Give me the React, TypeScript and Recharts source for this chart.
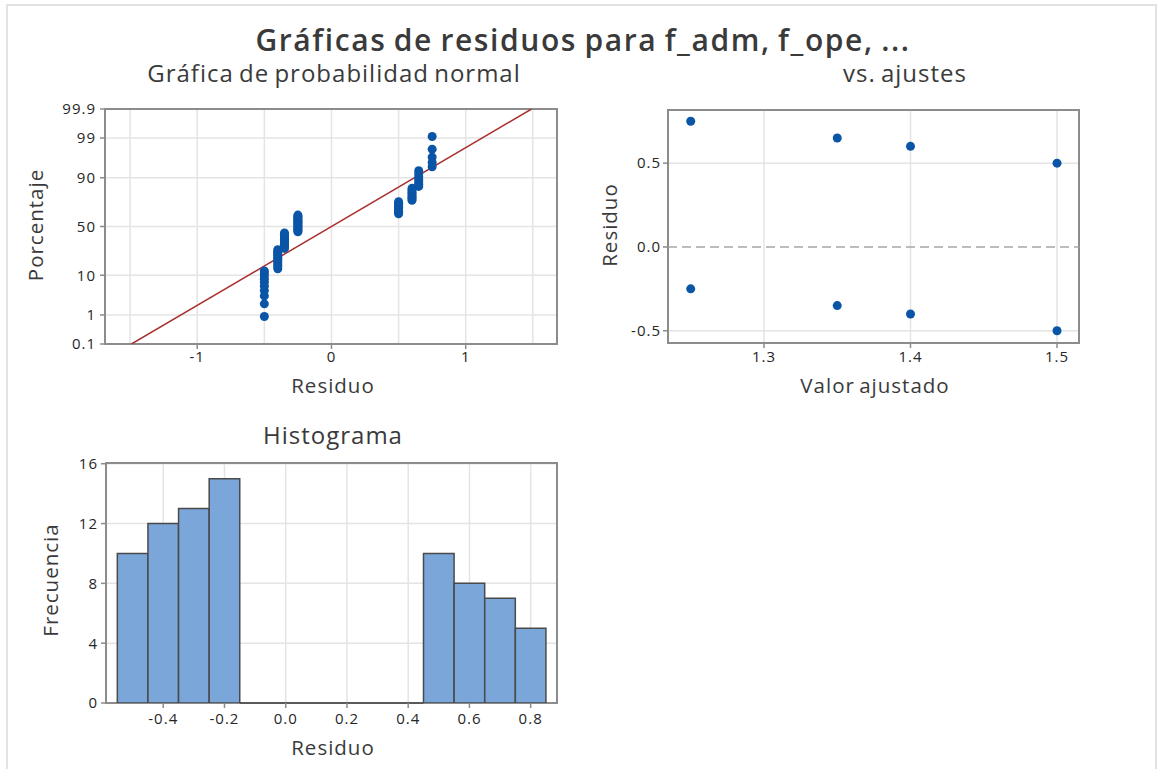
import React from "react";
import {
  ScatterChart,
  Scatter,
  BarChart,
  Bar,
  XAxis,
  YAxis,
  CartesianGrid,
  ReferenceLine,
  ReferenceArea,
} from "recharts";

// --- Gráfica de probabilidad normal: residuos ordenados y su percentaje ---
const PROB_RESIDUALS = [
  -0.5, -0.5, -0.5, -0.5, -0.5, -0.5, -0.5, -0.5, -0.5, -0.5,
  -0.4, -0.4, -0.4, -0.4, -0.4, -0.4, -0.4, -0.4, -0.4, -0.4, -0.4, -0.4,
  -0.35, -0.35, -0.35, -0.35, -0.35, -0.35, -0.35, -0.35, -0.35, -0.35, -0.35, -0.35, -0.35,
  -0.25, -0.25, -0.25, -0.25, -0.25, -0.25, -0.25, -0.25, -0.25, -0.25, -0.25, -0.25, -0.25, -0.25, -0.25,
  0.5, 0.5, 0.5, 0.5, 0.5, 0.5, 0.5, 0.5, 0.5, 0.5,
  0.6, 0.6, 0.6, 0.6, 0.6, 0.6, 0.6, 0.6,
  0.65, 0.65, 0.65, 0.65, 0.65, 0.65, 0.65,
  0.75, 0.75, 0.75, 0.75, 0.75,
];
const PROB_PERCENTS = [
  0.9, 2.1, 3.4, 4.6, 5.8, 7.1, 8.3, 9.6, 10.8, 12.1,
  13.3, 14.6, 15.8, 17.0, 18.3, 19.5, 20.8, 22.0, 23.3, 24.5, 25.7, 27.0,
  28.2, 29.5, 30.7, 32.0, 33.2, 34.5, 35.7, 36.9, 38.2, 39.4, 40.7, 41.9, 43.2,
  44.4, 45.6, 46.9, 48.1, 49.4, 50.6, 51.9, 53.1, 54.4, 55.6, 56.8, 58.1, 59.3, 60.6, 61.8,
  63.1, 64.3, 65.5, 66.8, 68.0, 69.3, 70.5, 71.8, 73.0, 74.3,
  75.5, 76.7, 78.0, 79.2, 80.5, 81.7, 83.0, 84.2,
  85.4, 86.7, 87.9, 89.2, 90.4, 91.7, 92.9,
  94.2, 95.4, 96.6, 97.9, 99.1,
];
const PROB_TICKS = [0.1, 1, 10, 50, 90, 99, 99.9];
const PROB_X_TICKS = [-1, 0, 1];
const PROB_X_GRID = [-1.5, -1, -0.5, 0, 0.5, 1, 1.5];
const PROB_X_DOMAIN = [-1.687, 1.68];
const FIT_RESIDUALS = [-1.49, 1.49];
const FIT_PERCENTS = [0.1, 99.9];

// --- vs. ajustes ---
const FITTED_VALUES = [1.25, 1.25, 1.35, 1.35, 1.4, 1.4, 1.5, 1.5];
const FITTED_RESIDUALS = [0.75, -0.25, 0.65, -0.35, 0.6, -0.4, 0.5, -0.5];
const FITS_X_TICKS = [1.3, 1.4, 1.5];
const FITS_Y_TICKS = [-0.5, 0, 0.5];
const FITS_X_DOMAIN = [1.2345, 1.515];
const FITS_Y_DOMAIN = [-0.573, 0.817];

// --- Histograma ---
const HIST_MIDPOINTS = [-0.5, -0.4, -0.3, -0.2, -0.1, 0, 0.1, 0.2, 0.3, 0.4, 0.5, 0.6, 0.7, 0.8];
const HIST_COUNTS = [10, 12, 13, 15, 0, 0, 0, 0, 0, 0, 10, 8, 7, 5];
const HIST_BIN_WIDTH = 0.1;
const HIST_X_TICKS = [-0.4, -0.2, 0, 0.2, 0.4, 0.6, 0.8];
const HIST_Y_TICKS = [0, 4, 8, 12, 16];
const HIST_X_DOMAIN = [-0.587, 0.886];
const HIST_Y_DOMAIN = [0, 16.05];

const FONT = "'Open Sans', 'Noto Sans', sans-serif";
const TEXT = "#262626";
const FRAME = "#8c8c8c";
const GRID = "#e4e4e4";
const POINT = "#0b55a6";

// inverse normal CDF (Acklam) for the probability axis
function probit(p: number): number {
  const a = [-39.69683028665376, 220.9460984245205, -275.9285104469687, 138.357751867269, -30.66479806614716, 2.506628277459239];
  const b = [-54.47609879822406, 161.5858368580409, -155.6989798598866, 66.80131188771972, -13.28068155288572];
  const c = [-0.007784894002430293, -0.3223964580411365, -2.400758277161838, -2.549732539343734, 4.374664141464968, 2.938163982698783];
  const d = [0.007784695709041462, 0.3224671290700398, 2.445134137142996, 3.754408661907416];
  const lo = 0.02425;
  if (p < lo) {
    const q = Math.sqrt(-2 * Math.log(p));
    return (((((c[0] * q + c[1]) * q + c[2]) * q + c[3]) * q + c[4]) * q + c[5]) /
      ((((d[0] * q + d[1]) * q + d[2]) * q + d[3]) * q + 1);
  }
  if (p > 1 - lo) {
    const q = Math.sqrt(-2 * Math.log(1 - p));
    return -(((((c[0] * q + c[1]) * q + c[2]) * q + c[3]) * q + c[4]) * q + c[5]) /
      ((((d[0] * q + d[1]) * q + d[2]) * q + d[3]) * q + 1);
  }
  const q = p - 0.5;
  const r = q * q;
  return ((((((a[0] * r + a[1]) * r + a[2]) * r + a[3]) * r + a[4]) * r + a[5]) * q) /
    (((((b[0] * r + b[1]) * r + b[2]) * r + b[3]) * r + b[4]) * r + 1);
}

const probData = PROB_RESIDUALS.map((x, i) => ({ x, z: probit(PROB_PERCENTS[i] / 100) }));
const fitLineData = FIT_RESIDUALS.map((x, i) => ({ x, z: probit(FIT_PERCENTS[i] / 100) }));
const probTickZ = PROB_TICKS.map((p) => probit(p / 100));
const PROB_Y_DOMAIN = [probTickZ[0], probTickZ[probTickZ.length - 1]];

const fitsData = FITTED_VALUES.map((x, i) => ({ x, y: FITTED_RESIDUALS[i] }));
const histData = HIST_MIDPOINTS.map((mid, i) => ({ mid, count: HIST_COUNTS[i] }));
const emptyBins = HIST_MIDPOINTS.filter((_, i) => HIST_COUNTS[i] === 0);

const tickStyle = { fill: TEXT, fontSize: 15, fontFamily: FONT, letterSpacing: 1 };
const tickLine = { stroke: FRAME, strokeWidth: 1.5 };

const Dot = (props: any) => <circle cx={props.cx} cy={props.cy} r={4.5} fill={POINT} />;
const NoDot = () => <g />;

function Label({ x, y, size, weight = 400, spacing = 1, rotate = false, color = "#3a3a3a", children }: any) {
  return (
    <div
      style={{
        position: "absolute",
        left: x,
        top: y,
        transform: `translate(-50%, -50%)${rotate ? " rotate(-90deg)" : ""}`,
        fontSize: size,
        fontWeight: weight,
        fontFamily: FONT,
        letterSpacing: spacing,
        wordSpacing: -2,
        color,
        whiteSpace: "nowrap",
        lineHeight: 1,
      }}
    >
      {children}
    </div>
  );
}

function ProbabilityPlot() {
  return (
    <ScatterChart width={580} height={320} margin={{ top: 19, right: 23, left: 0, bottom: 0 }}>
      <CartesianGrid
        stroke={GRID}
        strokeWidth={1.5}
        verticalValues={PROB_X_GRID}
        horizontalValues={probTickZ}
      />
      <XAxis
        type="number"
        dataKey="x"
        domain={PROB_X_DOMAIN}
        allowDataOverflow
        ticks={PROB_X_TICKS}
        interval={0}
        height={66}
        tickSize={5}
        tickMargin={2}
        axisLine={false}
        tickLine={tickLine}
        tick={tickStyle}
      />
      <YAxis
        type="number"
        dataKey="z"
        domain={PROB_Y_DOMAIN}
        allowDataOverflow
        ticks={probTickZ}
        interval={0}
        width={105}
        tickSize={5}
        tickMargin={4}
        axisLine={false}
        tickLine={tickLine}
        tick={tickStyle}
        tickFormatter={(v: number) => {
          const i = probTickZ.findIndex((t) => Math.abs(t - v) < 1e-6);
          return i >= 0 ? String(PROB_TICKS[i]) : "";
        }}
      />
      <Scatter
        data={fitLineData}
        line={{ stroke: "#a8302f", strokeWidth: 1.5 }}
        shape={NoDot}
        isAnimationActive={false}
      />
      <Scatter data={probData} shape={Dot} isAnimationActive={false} />
      <ReferenceArea
        x1={PROB_X_DOMAIN[0]}
        x2={PROB_X_DOMAIN[1]}
        y1={PROB_Y_DOMAIN[0]}
        y2={PROB_Y_DOMAIN[1]}
        fill="none"
        fillOpacity={0}
        stroke={FRAME}
        strokeWidth={2}
      />
    </ScatterChart>
  );
}

function FitsPlot() {
  return (
    <ScatterChart width={579} height={320} margin={{ top: 20, right: 80, left: 0, bottom: 0 }}>
      <CartesianGrid
        stroke={GRID}
        strokeWidth={1.5}
        verticalValues={FITS_X_TICKS}
        horizontalValues={[-0.5, 0.5]}
      />
      <XAxis
        type="number"
        dataKey="x"
        domain={FITS_X_DOMAIN}
        allowDataOverflow
        ticks={FITS_X_TICKS}
        interval={0}
        height={67}
        tickSize={5}
        tickMargin={3}
        axisLine={false}
        tickLine={tickLine}
        tick={tickStyle}
        tickFormatter={(v: number) => v.toFixed(1)}
      />
      <YAxis
        type="number"
        dataKey="y"
        domain={FITS_Y_DOMAIN}
        allowDataOverflow
        ticks={FITS_Y_TICKS}
        interval={0}
        width={88}
        tickSize={5}
        tickMargin={2}
        axisLine={false}
        tickLine={tickLine}
        tick={tickStyle}
        tickFormatter={(v: number) => v.toFixed(1)}
      />
      <ReferenceLine y={0} stroke="#a6a6a6" strokeWidth={1.5} strokeDasharray="9 5" />
      <Scatter data={fitsData} shape={Dot} isAnimationActive={false} />
      <ReferenceArea
        x1={FITS_X_DOMAIN[0]}
        x2={FITS_X_DOMAIN[1]}
        y1={FITS_Y_DOMAIN[0]}
        y2={FITS_Y_DOMAIN[1]}
        fill="none"
        fillOpacity={0}
        stroke={FRAME}
        strokeWidth={2}
      />
    </ScatterChart>
  );
}

function Histogram() {
  const plotWidth = 580 - 106 - 23;
  const barSize = (HIST_BIN_WIDTH / (HIST_X_DOMAIN[1] - HIST_X_DOMAIN[0])) * plotWidth - 0.05;
  return (
    <BarChart
      width={580}
      height={329}
      data={histData}
      margin={{ top: 23, right: 23, left: 0, bottom: 0 }}
      barCategoryGap={0}
      barGap={0}
    >
      <CartesianGrid stroke={GRID} strokeWidth={1.5} />
      <XAxis
        type="number"
        dataKey="mid"
        domain={HIST_X_DOMAIN}
        allowDataOverflow
        ticks={HIST_X_TICKS}
        interval={0}
        height={66}
        tickSize={5}
        tickMargin={5}
        axisLine={false}
        tickLine={tickLine}
        tick={tickStyle}
        tickFormatter={(v: number) => v.toFixed(1)}
      />
      <YAxis
        type="number"
        domain={HIST_Y_DOMAIN}
        allowDataOverflow
        ticks={HIST_Y_TICKS}
        interval={0}
        width={106}
        tickSize={5}
        tickMargin={3}
        axisLine={false}
        tickLine={tickLine}
        tick={tickStyle}
      />
      <Bar
        dataKey="count"
        barSize={barSize}
        fill="#7ba6da"
        stroke="#4a4a4a"
        strokeWidth={1.5}
        isAnimationActive={false}
      />
      <ReferenceLine
        segment={[
          { x: emptyBins[0] - HIST_BIN_WIDTH / 2, y: 0 },
          { x: emptyBins[emptyBins.length - 1] + HIST_BIN_WIDTH / 2, y: 0 },
        ]}
        stroke="#4a4a4a"
        strokeWidth={1.5}
      />
      <ReferenceArea
        x1={HIST_X_DOMAIN[0]}
        x2={HIST_X_DOMAIN[1]}
        y1={HIST_Y_DOMAIN[0]}
        y2={HIST_Y_DOMAIN[1]}
        fill="none"
        fillOpacity={0}
        stroke={FRAME}
        strokeWidth={2}
      />
    </BarChart>
  );
}

export default function App() {
  return (
    <div
      style={{
        position: "absolute",
        left: 0,
        top: 0,
        width: 1159,
        height: 769,
        background: "#ffffff",
        overflow: "hidden",
        fontFamily: FONT,
      }}
    >
      <div
        style={{
          position: "absolute",
          left: 6,
          top: 4,
          width: 1151,
          height: 780,
          border: "2px solid #e2e2e2",
          boxSizing: "border-box",
        }}
      />
      <div style={{ position: "absolute", left: 0, top: 90 }}>
        <ProbabilityPlot />
      </div>
      <div style={{ position: "absolute", left: 580, top: 90 }}>
        <FitsPlot />
      </div>
      <div style={{ position: "absolute", left: 0, top: 440 }}>
        <Histogram />
      </div>

      <Label x={583} y={40} size={30} weight={600} spacing={1.6}>Gráficas de residuos para f_adm, f_ope, ...</Label>
      <Label x={334} y={73} size={24} weight={500}>Gráfica de probabilidad normal</Label>
      <Label x={905} y={73} size={24} weight={500}>vs. ajustes</Label>
      <Label x={333} y={435} size={24} weight={500}>Histograma</Label>

      <Label x={333} y={385} size={20.5}>Residuo</Label>
      <Label x={35} y={225} size={20.5} rotate>Porcentaje</Label>
      <Label x={609} y={225} size={20.5} rotate>Residuo</Label>
      <Label x={875} y={385} size={20.5}>Valor ajustado</Label>
      <Label x={50} y={580} size={20.5} rotate>Frecuencia</Label>
      <Label x={333} y={747} size={20.5}>Residuo</Label>
    </div>
  );
}
